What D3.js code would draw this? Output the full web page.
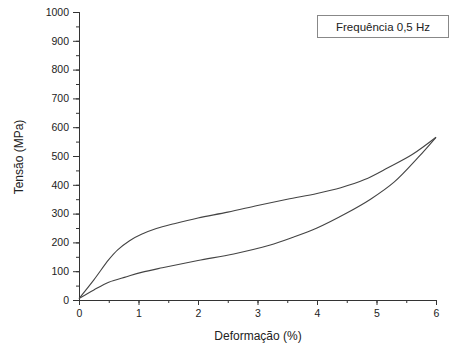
<!DOCTYPE html>
<html><head><meta charset="utf-8">
<script src="https://cdn.jsdelivr.net/npm/d3@7"></script>
<style>body{margin:0;background:#fff;}svg{display:block;font-family:"Liberation Sans",Arial,sans-serif;}</style>
</head><body>
<svg id="c" width="450" height="346"></svg>
<script>
const xTicks = [0,1,2,3,4,5,6];
const yTicks = [0,100,200,300,400,500,600,700,800,900,1000];
const upperX = [0, 0.25, 0.5, 0.65, 0.85, 1.05, 1.3, 1.6, 2.0, 2.5, 3.0, 3.5, 4.0, 4.4, 4.8, 5.2, 5.6, 6.0];
const upperY = [5, 70, 140, 174, 206, 228, 248, 265, 285, 305, 328, 350, 370, 390, 418, 460, 505, 565];
const lowerX = [0, 0.25, 0.5, 0.8, 1.05, 1.4, 2.0, 2.6, 3.2, 3.6, 4.0, 4.5, 4.9, 5.3, 5.7, 6.0];
const lowerY = [5, 35, 62, 81, 96, 112, 137, 160, 190, 218, 250, 302, 350, 410, 495, 565];
const legendText = "Frequência 0,5 Hz";
const xLabel = "Deformação (%)";
const yLabel = "Tensão (MPa)";

const svg = d3.select("#c");
const x = d3.scaleLinear().domain([0,6]).range([79,436]);
const y = d3.scaleLinear().domain([0,1000]).range([300,12]);
const axisColor = "#333";

const gx = svg.append("g").attr("transform","translate(0,300)");
gx.call(d3.axisBottom(x).tickValues(d3.range(0,6.01,0.5)).tickSize(3).tickFormat(""));
gx.append("g").call(d3.axisBottom(x).tickValues(xTicks).tickSize(5).tickFormat(d3.format("d")));
gx.selectAll("path").attr("stroke",axisColor);
gx.selectAll("line").attr("stroke",axisColor);
gx.selectAll("text").attr("fill","#222").style("font-size","10.5px").attr("dy","0.9em");

const gy = svg.append("g").attr("transform","translate(79,0)");
gy.call(d3.axisLeft(y).tickValues(d3.range(0,1001,50)).tickSize(3).tickFormat(""));
gy.append("g").call(d3.axisLeft(y).tickValues(yTicks).tickSize(6).tickFormat(d3.format("d")));
gy.selectAll("path").attr("stroke",axisColor);
gy.selectAll("line").attr("stroke",axisColor);
gy.selectAll("text").attr("fill","#222").style("font-size","10.5px").attr("x",-10);

const line = d3.line().x(d=>x(d[0])).y(d=>y(d[1])).curve(d3.curveCatmullRom.alpha(0.5));
[[upperX,upperY],[lowerX,lowerY]].forEach(([xs,ys])=>{
  svg.append("path").datum(xs.map((v,i)=>[v,ys[i]]))
    .attr("d",line).attr("fill","none").attr("stroke","#444").attr("stroke-width",1.1);
});

svg.append("rect").attr("x",317.5).attr("y",15.5).attr("width",131).attr("height",22)
  .attr("fill","#fff").attr("stroke","#888").attr("stroke-width",1);
svg.append("text").attr("x",383).attr("y",31).attr("text-anchor","middle")
  .style("font-size","11.5px").attr("fill","#222").text(legendText);

svg.append("text").attr("x",258).attr("y",340).attr("text-anchor","middle")
  .style("font-size","12px").attr("fill","#222").text(xLabel);
svg.append("text").attr("transform","translate(23,157) rotate(-90)").attr("text-anchor","middle")
  .style("font-size","12px").attr("fill","#222").text(yLabel);
</script>
</body></html>
